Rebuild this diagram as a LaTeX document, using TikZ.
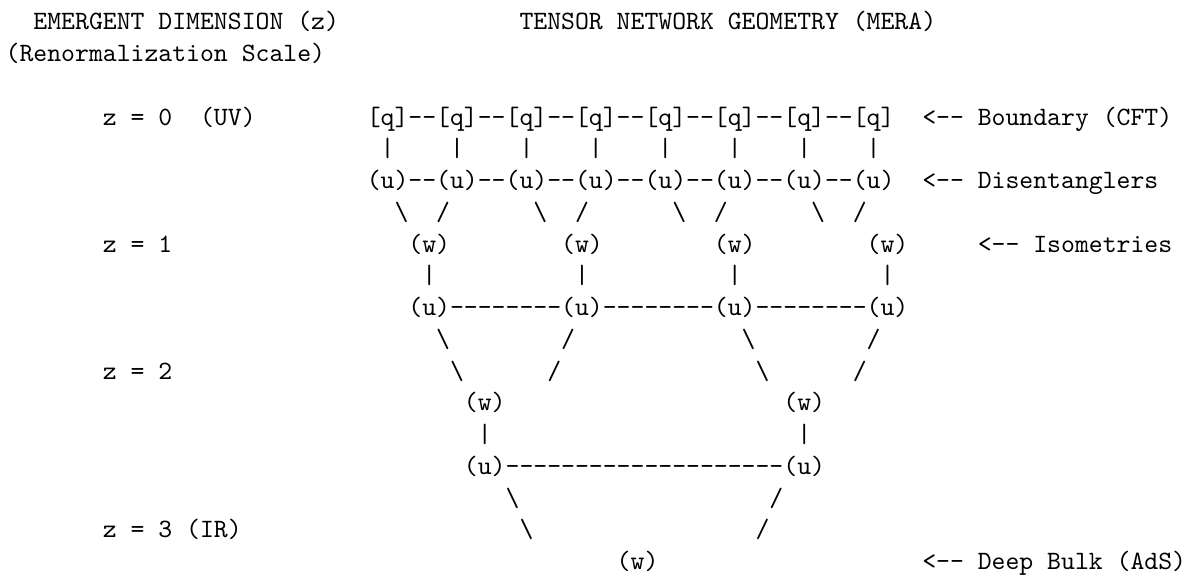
\documentclass[tikz,border=0pt]{standalone}
\newcommand\dd{-{}-{}}
\newcommand\bs{\textbackslash}
\newcommand\tk[4]{\node[txt] (#1) at ({2.15+5.25*#2},{-11.3-12*#3}) {#4};}
\begin{document}
\begin{tikzpicture}[x=1pt,y=1pt,
  txt/.style={inner sep=0pt, outer sep=0pt, anchor=base west,
    font=\fontsize{10pt}{12pt}\selectfont\ttfamily}]
\fill[white] (0,0) rectangle (451,-217.4);
\useasboundingbox (0,0) rectangle (451,-217.4);
% titles
\tk{titleL}{2}{0}{EMERGENT DIMENSION (z)}
\tk{titleR}{37}{0}{TENSOR NETWORK GEOMETRY (MERA)}
\tk{subtitle}{0}{1}{(Renormalization Scale)}
% row 3
\tk{z0}{7}{3}{z = 0}
\tk{uv}{14}{3}{(UV)}
\tk{qrow}{26}{3}{[q]\dd[q]\dd[q]\dd[q]\dd[q]\dd[q]\dd[q]\dd[q]}
\tk{lblcft}{66}{3}{<\dd{} Boundary (CFT)}
% row 4
\foreach \c [count=\i] in {27,32,37,42,47,52,57,62}{\tk{p4-\i}{\c}{4}{|}}
% row 5
\tk{urow}{26}{5}{(u)\dd(u)\dd(u)\dd(u)\dd(u)\dd(u)\dd(u)\dd(u)}
\tk{lbldis}{66}{5}{<\dd{} Disentanglers}
% row 6
\foreach \c [count=\i] in {28,38,48,58}{\tk{b6-\i}{\c}{6}{\bs}}
\foreach \c [count=\i] in {31,41,51,61}{\tk{s6-\i}{\c}{6}{/}}
% row 7
\tk{z1}{7}{7}{z = 1}
\foreach \c [count=\i] in {29,40,51,62}{\tk{w7-\i}{\c}{7}{(w)}}
\tk{lbliso}{70}{7}{<\dd{} Isometries}
% row 8
\foreach \c [count=\i] in {30,41,52,63}{\tk{p8-\i}{\c}{8}{|}}
% row 9
\tk{u9}{29}{9}{(u)\dd\dd\dd\dd(u)\dd\dd\dd\dd(u)\dd\dd\dd\dd(u)}
% row 10
\foreach \c [count=\i] in {31,53}{\tk{b10-\i}{\c}{10}{\bs}}
\foreach \c [count=\i] in {40,62}{\tk{s10-\i}{\c}{10}{/}}
% row 11
\tk{z2}{7}{11}{z = 2}
\foreach \c [count=\i] in {32,54}{\tk{b11-\i}{\c}{11}{\bs}}
\foreach \c [count=\i] in {39,61}{\tk{s11-\i}{\c}{11}{/}}
% row 12
\foreach \c [count=\i] in {33,56}{\tk{w12-\i}{\c}{12}{(w)}}
% row 13
\foreach \c [count=\i] in {34,57}{\tk{p13-\i}{\c}{13}{|}}
% row 14
\tk{u14}{33}{14}{(u)\dd\dd\dd\dd\dd\dd\dd\dd\dd\dd(u)}
% row 15
\tk{b15}{36}{15}{\bs}
\tk{s15}{55}{15}{/}
% row 16
\tk{z3}{7}{16}{z = 3 (IR)}
\tk{b16}{37}{16}{\bs}
\tk{s16}{54}{16}{/}
% row 17
\tk{w17}{44}{17}{(w)}
\tk{lblads}{66}{17}{<\dd{} Deep Bulk (AdS)}
\end{tikzpicture}
\end{document}
